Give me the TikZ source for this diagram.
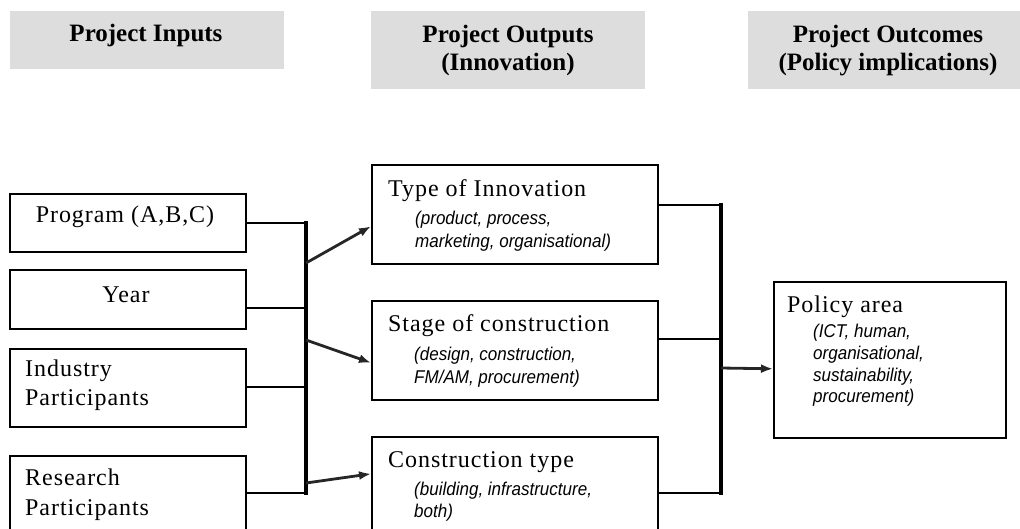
\documentclass[tikz,border=0pt]{standalone}
\usepackage{fontspec}
\setmainfont{Liberation Serif}
\newfontfamily\titlefont[LetterSpace=4]{Liberation Serif}
\newfontfamily\notefont[FakeStretch=0.92]{Liberation Sans}
\usetikzlibrary{arrows.meta}
\definecolor{headgray}{RGB}{221,221,221}

\begin{document}
\begin{tikzpicture}
[x=1pt,y=-1pt,
 hd/.style={fill=headgray,inner sep=0pt,anchor=north west},
 bx/.style={draw=black,line width=1.6pt,inner sep=0pt,anchor=north west},
 hdtxt/.style={font=\fontsize{25}{28}\selectfont\bfseries,anchor=base,inner sep=0pt},
 ttl/.style={font=\titlefont\fontsize{24}{28}\selectfont,anchor=base west,inner sep=0pt},
 nt/.style={font=\notefont\itshape\fontsize{18.5}{22}\selectfont,anchor=base west,inner sep=0pt},
 ln/.style={draw=black,line width=2.4pt},
 bus/.style={draw=black,line width=4pt,line cap=rect},
 ar/.style={draw=black!85,line width=2.8pt,arrows={-Latex[length=12pt,width=9pt]}}]
\useasboundingbox (0,0) rectangle (1020,528);
\clip (0,0) rectangle (1020,528);

% column heads
\node[hd,minimum width=274pt,minimum height=58pt] (hin) at (10,11) {};
\node[hd,minimum width=274pt,minimum height=78pt] (hout) at (371,11) {};
\node[hd,minimum width=272pt,minimum height=78pt] (hoc) at (748,11) {};
\node[hdtxt] (hin1) at (146,41) {Project Inputs};
\node[hdtxt] (hout1) at (508,42) {Project Outputs};
\node[hdtxt] (hout2) at (508,70) {(Innovation)};
\node[hdtxt] (hoc1) at (888,42) {Project Outcomes};
\node[hdtxt] (hoc2) at (888,70) {(Policy implications)};

% inputs
\node[bx,minimum width=236pt,minimum height=58pt] (prog) at (9,193) {};
\node[bx,minimum width=236pt,minimum height=59pt] (year) at (9,269) {};
\node[bx,minimum width=236pt,minimum height=78pt] (ind) at (9,348) {};
\node[bx,minimum width=236pt,minimum height=110pt] (res) at (9,455) {};
\node[ttl,anchor=base] (prog1) at (125,222) {Program (A,B,C)};
\node[ttl,anchor=base] (year1) at (126,302) {Year};
\node[ttl] (ind1) at (25,376) {Industry};
\node[ttl] (ind2) at (25,405) {Participants};
\node[ttl] (res1) at (25,485) {Research};
\node[ttl] (res2) at (25,515) {Participants};

% outputs
\node[bx,minimum width=286pt,minimum height=99pt] (typ) at (371,164) {};
\node[bx,minimum width=286pt,minimum height=99pt] (stage) at (371,300) {};
\node[bx,minimum width=286pt,minimum height=104pt] (ctype) at (371,436) {};
\node[ttl] (typ1) at (388,196) {Type of Innovation};
\node[nt] (typ2) at (415,224) {(product, process,};
\node[nt] (typ3) at (415,247) {marketing, organisational)};
\node[ttl] (stage1) at (388,331) {Stage of construction};
\node[nt] (stage2) at (414,360) {(design, construction,};
\node[nt] (stage3) at (414,383) {FM/AM, procurement)};
\node[ttl] (ctype1) at (388,467) {Construction type};
\node[nt] (ctype2) at (414,495) {(building, infrastructure,};
\node[nt] (ctype3) at (414,517) {both)};

% outcome
\node[bx,minimum width=232pt,minimum height=156pt] (pol) at (773,281) {};
\node[ttl] (pol1) at (787,312) {Policy area};
\node[nt] (pol2) at (813,337) {(ICT, human,};
\node[nt] (pol3) at (813,359) {organisational,};
\node[nt] (pol4) at (813,381) {sustainability,};
\node[nt] (pol5) at (813,402) {procurement)};

% left bus
\coordinate (l1) at (306,223);
\coordinate (l2) at (306,308);
\coordinate (l3) at (306,387);
\coordinate (l4) at (306,493);
\draw[ln] (prog.east |- l1) -- (l1);
\draw[ln] (year.east |- l2) -- (l2);
\draw[ln] (ind.east |- l3) -- (l3);
\draw[ln] (res.east |- l4) -- (l4);
\draw[bus] (l1) -- (l4);

\coordinate (a1) at (306,263);
\coordinate (a2) at (306,340);
\coordinate (a3) at (306,483);
\draw[ar] (a1) -- ([yshift=-12pt]typ.west);
\draw[ar] (a2) -- ([yshift=-12.5pt]stage.west);
\draw[ar] (a3) -- ([yshift=15pt]ctype.west);

% right bus
\coordinate (r1) at (721,205);
\coordinate (r2) at (721,339);
\coordinate (r3) at (721,493);
\draw[ln] (typ.east |- r1) -- (r1);
\draw[ln] (stage.east |- r2) -- (r2);
\draw[ln] (ctype.east |- r3) -- (r3);
\draw[bus] (r1) -- (r3);

\coordinate (a4) at (721,368);
\draw[ar] (a4) -- ([yshift=-9pt]pol.west);

\end{tikzpicture}
\end{document}
